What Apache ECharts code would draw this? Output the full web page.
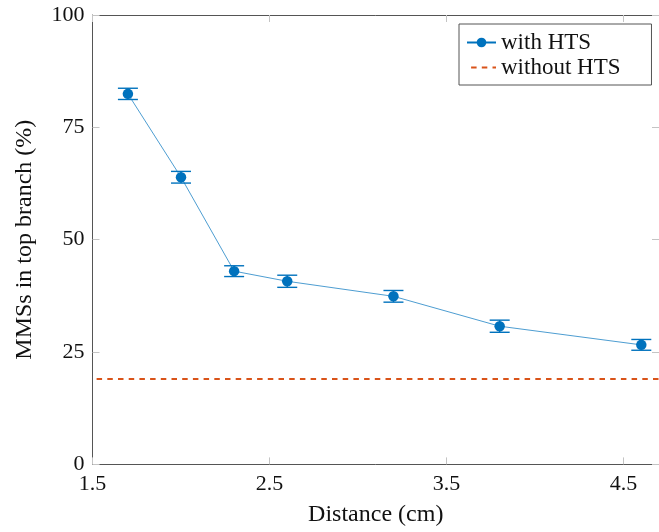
<!DOCTYPE html>
<html>
<head>
<meta charset="utf-8">
<script src="https://cdn.jsdelivr.net/npm/echarts@6/dist/echarts.min.js"></script>
<style>
  html, body { margin: 0; padding: 0; background: #fff; }
  #chart { width: 659px; height: 532px; }
</style>
</head>
<body>
<div id="chart"></div>
<script>
// Share of MMSs ending in the top branch vs. distance, with and without HTS
const distance   = [1.7, 2.0, 2.3, 2.6, 3.2, 3.8, 4.6];        // cm
const withHTS    = [82.45, 63.9, 43.0, 40.75, 37.4, 30.75, 26.6]; // %
const errHTS     = [1.25, 1.3, 1.2, 1.35, 1.3, 1.35, 1.2];        // ± %
const withoutHTS = 19.0;                                          // % (constant reference)
const xRange     = [1.5, 4.7];
const xTicks     = [1.5, 2.5, 3.5, 4.5];
const yTicks     = [0, 25, 50, 75, 100];

const BLUE = '#0072BD';
const ORANGE = '#D95319';
const FONT = '"Liberation Serif", "DejaVu Serif", serif';

const chart = echarts.init(document.getElementById('chart'), null, { renderer: 'canvas' });

const pointData = distance.map((x, i) => [x, withHTS[i]]);
const errData = distance.map((x, i) => [x, withHTS[i], errHTS[i]]);
const refData = xRange.map(x => [x, withoutHTS]);

const tickStyle = { show: true, inside: true, length: 7, lineStyle: { color: '#c4c4c4', width: 1 } };
const frameLine = { show: true, onZero: false, lineStyle: { color: '#555', width: 1 } };

chart.setOption({
  animation: false,
  backgroundColor: '#fff',
  grid: { left: 92.5, top: 15, width: 569.5, height: 449.4, containLabel: false },
  xAxis: [
    {
      type: 'value', min: xRange[0], max: xRange[1], position: 'bottom',
      axisLine: frameLine,
      axisTick: Object.assign({ customValues: xTicks }, tickStyle),
      axisLabel: { customValues: xTicks, margin: 9, color: '#111', fontFamily: FONT, fontSize: 22,
                   formatter: v => v.toFixed(1) },
      splitLine: { show: false },
      name: 'Distance (cm)', nameLocation: 'middle', nameGap: 38,
      nameTextStyle: { color: '#111', fontFamily: FONT, fontSize: 24 }
    },
    {
      type: 'value', min: xRange[0], max: xRange[1], position: 'top',
      axisLine: frameLine,
      axisTick: Object.assign({ customValues: xTicks }, tickStyle),
      axisLabel: { show: false },
      splitLine: { show: false }
    }
  ],
  yAxis: [
    {
      type: 'value', min: 0, max: 100, interval: 25, position: 'left',
      axisLine: frameLine,
      axisTick: tickStyle,
      axisLabel: { customValues: yTicks, margin: 8, color: '#111', fontFamily: FONT, fontSize: 22 },
      splitLine: { show: false },
      name: 'MMSs in top branch (%)', nameLocation: 'middle', nameGap: 56,
      nameTextStyle: { color: '#111', fontFamily: FONT, fontSize: 24 }
    },
    {
      type: 'value', min: 0, max: 100, interval: 25, position: 'right',
      axisLine: frameLine,
      axisTick: tickStyle,
      axisLabel: { show: false },
      splitLine: { show: false }
    }
  ],
  legend: {
    data: ['with HTS', { name: 'without HTS', itemStyle: { opacity: 0 } }],
    orient: 'vertical',
    left: 459, top: 24,
    padding: [7, 31, 6, 7],
    itemWidth: 29, itemHeight: 12, itemGap: 2,
    borderColor: '#555', borderWidth: 1, borderRadius: 0,
    backgroundColor: '#fff',
    textStyle: { color: '#111', fontFamily: FONT, fontSize: 23, lineHeight: 20 }
  },
  series: [
    {
      name: 'without HTS', type: 'line', data: refData,
      symbol: 'none', silent: true,
      lineStyle: { color: ORANGE, width: 2, type: [5.5, 5.2], dashOffset: 6.6 },
      itemStyle: { color: ORANGE },
      z: 2
    },
    {
      name: 'with HTS error', type: 'custom', data: errData,
      encode: { x: 0, y: 1 },
      renderItem: function (params, api) {
        const x = api.value(0), y = api.value(1), e = api.value(2);
        const hi = api.coord([x, y + e]);
        const lo = api.coord([x, y - e]);
        const cap = 10;
        const st = { stroke: BLUE, lineWidth: 1.4 };
        return {
          type: 'group',
          children: [
            { type: 'line', shape: { x1: hi[0], y1: hi[1], x2: lo[0], y2: lo[1] }, style: st },
            { type: 'line', shape: { x1: hi[0] - cap, y1: hi[1], x2: hi[0] + cap, y2: hi[1] }, style: st },
            { type: 'line', shape: { x1: lo[0] - cap, y1: lo[1], x2: lo[0] + cap, y2: lo[1] }, style: st }
          ]
        };
      },
      z: 3
    },
    {
      name: 'with HTS', type: 'line', data: pointData,
      symbol: 'circle', symbolSize: 10.5,
      lineStyle: { color: BLUE, width: 0.7 },
      itemStyle: { color: BLUE },
      z: 4
    }
  ]
});
</script>
</body>
</html>
